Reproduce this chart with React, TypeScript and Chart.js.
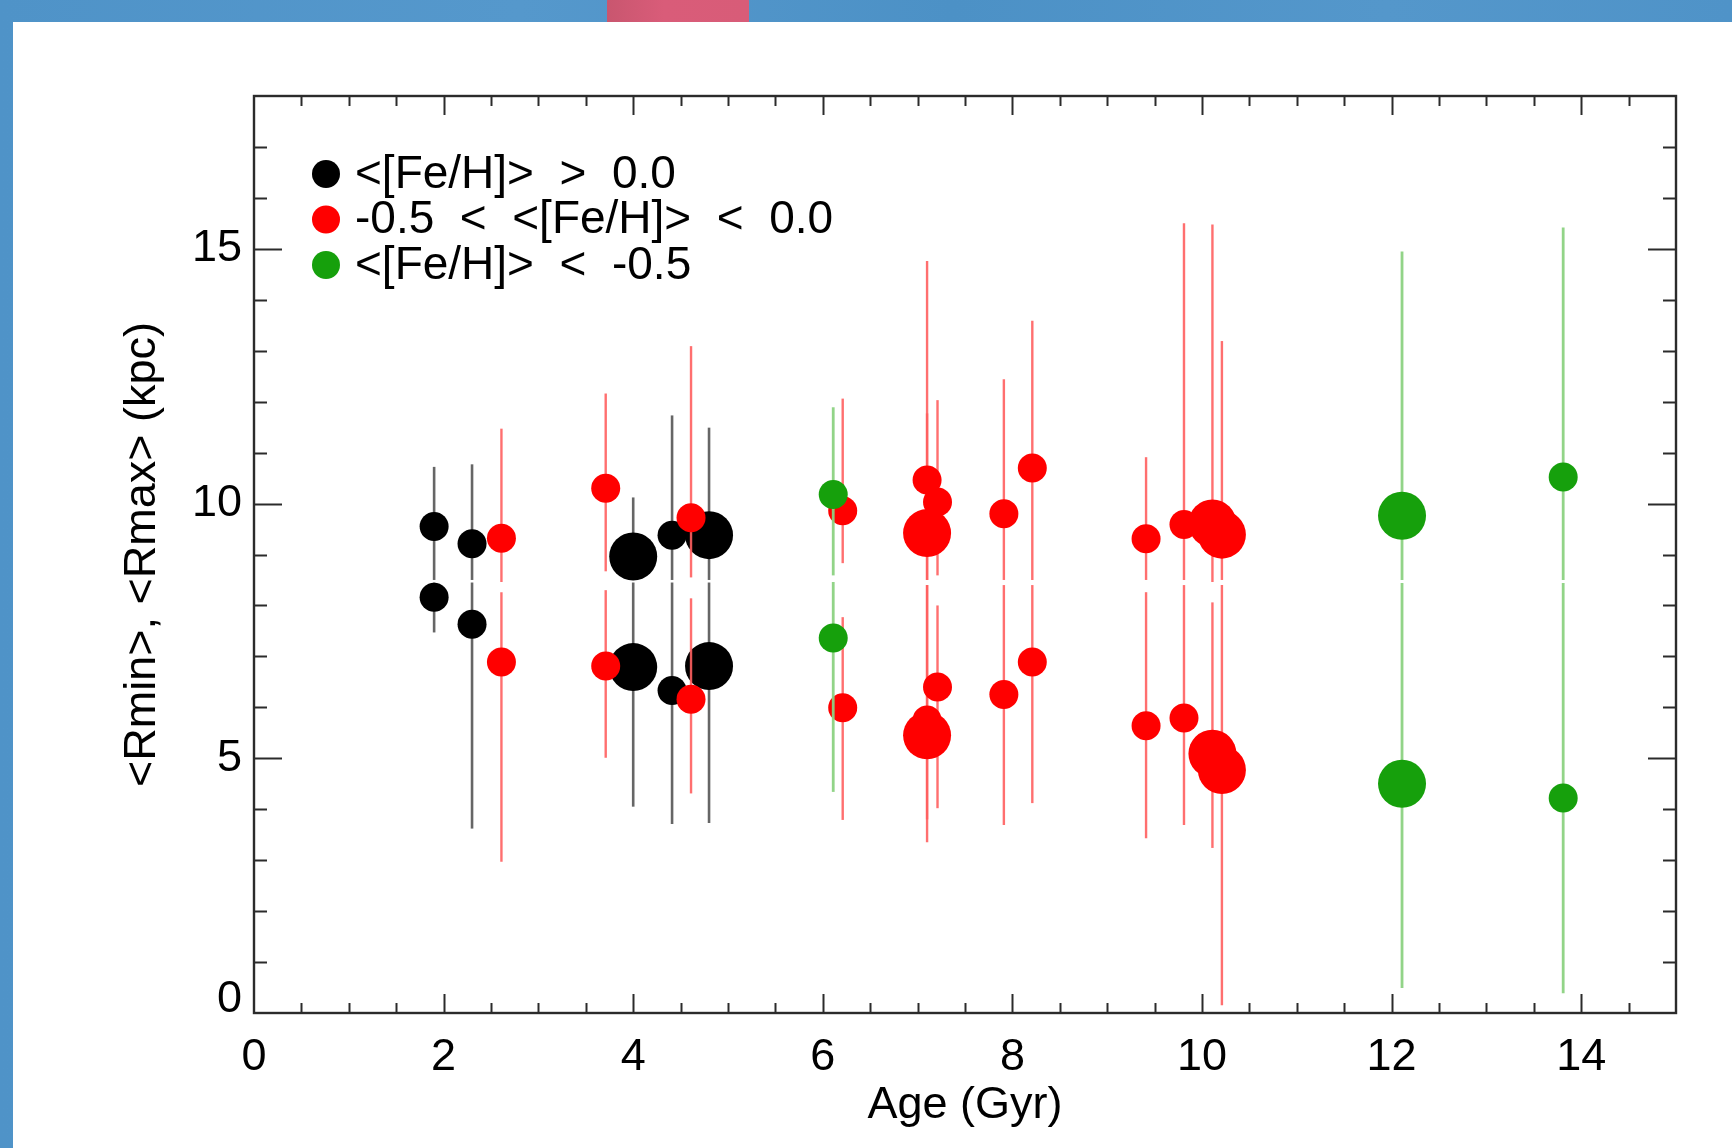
import React, { useEffect, useRef } from "react";
import { Chart, registerables } from "chart.js";

Chart.register(...registerables);

// ---------- axis setup / text ----------
const xTickLabels = ["0", "2", "4", "6", "8", "10", "12", "14"];
const yTickLabels = ["0", "5", "10", "15"];
const xTitle = "Age (Gyr)";
const yTitle = "<Rmin>, <Rmax> (kpc)";
const groupLabels = [
  "<[Fe/H]>  >  0.0",
  "-0.5  <  <[Fe/H]>  <  0.0",
  "<[Fe/H]>  <  -0.5",
];

// ---------- [Fe/H] > 0.0 ----------
const richAge = [1.9, 2.3, 4.0, 4.41, 4.8];
const richRmax = [9.55, 9.21, 8.96, 9.38, 9.38];
const richRmaxHi = [10.72, 10.77, 10.12, 11.73, 11.49];
const richRmaxLo = [8.5, 8.5, 8.5, 8.5, 8.5];
const richRmin = [8.16, 7.63, 6.79, 6.33, 6.81];
const richRminHi = [8.45, 8.45, 8.45, 8.45, 8.45];
const richRminLo = [7.47, 3.62, 4.05, 3.71, 3.73];
const richBig = [false, false, true, false, true];

// ---------- -0.5 < [Fe/H] < 0.0 ----------
const midAge = [2.61, 3.71, 4.61, 6.21, 7.1, 7.1, 7.21, 7.91, 8.21, 9.41, 9.81, 10.11, 10.21];
const midRmax = [9.32, 10.3, 9.72, 9.86, 10.46, 9.42, 10.03, 9.8, 10.7, 9.31, 9.59, 9.61, 9.39];
const midRmaxHi = [11.47, 12.16, 13.09, 12.06, 11.77, 14.76, 12.03, 12.44, 13.59, 10.91, 15.5, 15.48, 13.19];
const midRmaxLo = [8.46, 8.67, 8.55, 8.83, 8.5, 8.5, 8.59, 8.5, 8.5, 8.5, 8.5, 8.46, 8.5];
const midRmin = [6.89, 6.81, 6.16, 5.99, 5.75, 5.45, 6.4, 6.25, 6.89, 5.64, 5.79, 5.09, 4.77];
const midRminHi = [8.26, 8.3, 8.14, 7.77, 8.4, 8.4, 8.0, 8.4, 8.4, 8.26, 8.4, 8.06, 8.4];
const midRminLo = [2.97, 5.01, 4.31, 3.79, 3.8, 3.35, 4.02, 3.69, 4.12, 3.43, 3.69, 3.24, 0.15];
const midBig = [false, false, false, false, false, true, false, false, false, false, false, true, true];

// ---------- [Fe/H] < -0.5 ----------
const poorAge = [6.11, 12.11, 13.81];
const poorRmax = [10.18, 9.76, 10.52];
const poorRmaxHi = [11.89, 14.95, 15.42];
const poorRmaxLo = [8.59, 8.5, 8.5];
const poorRmin = [7.36, 4.5, 4.22];
const poorRminHi = [8.46, 8.44, 8.44];
const poorRminLo = [4.34, 0.49, 0.39];
const poorBig = [false, true, false];

const FONT = "'Liberation Sans', Arial, Helvetica, sans-serif";
const SMALL_R = 14.5;
const BIG_R = 24;

type Group = {
  label: string;
  color: string;
  barColor: string;
  barWidth: number;
  age: number[];
  rmax: number[];
  rmaxHi: number[];
  rmaxLo: number[];
  rmin: number[];
  rminHi: number[];
  rminLo: number[];
  big: boolean[];
};

const groups: Group[] = [
  {
    label: groupLabels[0], color: "#000000", barColor: "rgba(85,85,85,0.9)", barWidth: 2.6,
    age: richAge, rmax: richRmax, rmaxHi: richRmaxHi, rmaxLo: richRmaxLo,
    rmin: richRmin, rminHi: richRminHi, rminLo: richRminLo, big: richBig,
  },
  {
    label: groupLabels[1], color: "#ff0000", barColor: "rgba(255,95,95,0.9)", barWidth: 2.4,
    age: midAge, rmax: midRmax, rmaxHi: midRmaxHi, rmaxLo: midRmaxLo,
    rmin: midRmin, rminHi: midRminHi, rminLo: midRminLo, big: midBig,
  },
  {
    label: groupLabels[2], color: "#16a00c", barColor: "rgba(140,210,130,0.95)", barWidth: 2.8,
    age: poorAge, rmax: poorRmax, rmaxHi: poorRmaxHi, rmaxLo: poorRmaxLo,
    rmin: poorRmin, rminHi: poorRminHi, rminLo: poorRminLo, big: poorBig,
  },
];

const errorBarPlugin = {
  id: "errorBars",
  beforeDatasetDraw(chart: any, args: any) {
    const g = groups[args.index];
    if (!g) return;
    const { ctx, chartArea: a } = chart;
    const xs = chart.scales.x;
    const ys = chart.scales.y;
    ctx.save();
    ctx.beginPath();
    ctx.rect(a.left, a.top, a.right - a.left, a.bottom - a.top);
    ctx.clip();
    ctx.strokeStyle = g.barColor;
    ctx.lineWidth = g.barWidth;
    ctx.lineCap = "butt";
    g.age.forEach((age, i) => {
      const px = xs.getPixelForValue(age);
      const segs = [
        [g.rmaxLo[i], g.rmaxHi[i]],
        [g.rminLo[i], g.rminHi[i]],
      ];
      segs.forEach(([lo, hi]) => {
        ctx.beginPath();
        ctx.moveTo(px, ys.getPixelForValue(lo));
        ctx.lineTo(px, ys.getPixelForValue(hi));
        ctx.stroke();
      });
    });
    ctx.restore();
  },
};

const frameTicksPlugin = {
  id: "frameTicks",
  afterDatasetsDraw(chart: any) {
    const { ctx, chartArea: a } = chart;
    const xs = chart.scales.x;
    const ys = chart.scales.y;
    ctx.save();
    ctx.strokeStyle = "#2b2b2b";
    ctx.lineWidth = 2.4;
    ctx.strokeRect(a.left, a.top, a.right - a.left, a.bottom - a.top);
    ctx.lineWidth = 2;
    const seg = (x1: number, y1: number, x2: number, y2: number) => {
      ctx.beginPath();
      ctx.moveTo(x1, y1);
      ctx.lineTo(x2, y2);
      ctx.stroke();
    };
    // x axis: major every 2, minor every 0.5
    for (let k = 1; k * 0.5 < xs.max - 1e-9; k++) {
      const v = k * 0.5;
      const px = Math.round(xs.getPixelForValue(v)) + 0.5;
      const len = k % 4 === 0 ? 19 : 10;
      seg(px, a.bottom, px, a.bottom - len);
      seg(px, a.top, px, a.top + len);
    }
    // y axis: major every 5, minor every 1
    for (let k = 1; k < ys.max - 1e-9; k++) {
      const py = Math.round(ys.getPixelForValue(k)) + 0.5;
      const len = k % 5 === 0 ? 28 : 13;
      seg(a.left, py, a.left + len, py);
      seg(a.right, py, a.right - len, py);
    }
    ctx.restore();
  },
};

const legendPlugin = {
  id: "cornerLegend",
  afterDraw(chart: any) {
    const { ctx, chartArea: a } = chart;
    ctx.save();
    ctx.font = `46px ${FONT}`;
    ctx.textBaseline = "middle";
    ctx.textAlign = "left";
    groups.forEach((g, i) => {
      const cy = a.top + 78 + i * 45.5;
      ctx.fillStyle = g.color;
      ctx.beginPath();
      ctx.arc(a.left + 72, cy, 14, 0, Math.PI * 2);
      ctx.fill();
      ctx.fillStyle = "#000";
      ctx.fillText(g.label, a.left + 101, cy + 1);
    });
    ctx.restore();
  },
};

export default function App() {
  const ref = useRef<HTMLCanvasElement | null>(null);

  useEffect(() => {
    if (!ref.current) return;
    const datasets = groups.map((g, gi) => {
      const radii = g.big.map((b) => (b ? BIG_R : SMALL_R));
      return {
        label: g.label,
        data: [
          ...g.age.map((a, i) => ({ x: a, y: g.rmax[i] })),
          ...g.age.map((a, i) => ({ x: a, y: g.rmin[i] })),
        ],
        pointRadius: [...radii, ...radii],
        pointHoverRadius: [...radii, ...radii],
        pointBackgroundColor: g.color,
        pointBorderColor: g.color,
        pointBorderWidth: 0,
        showLine: false,
        order: 2 - gi,
      };
    });

    const chart = new Chart(ref.current, {
      type: "scatter",
      data: { datasets },
      plugins: [errorBarPlugin, frameTicksPlugin, legendPlugin],
      options: {
        responsive: false,
        animation: false,
        devicePixelRatio: 1,
        events: [],
        layout: { padding: { left: 0, right: 56, top: 96, bottom: 0 } },
        plugins: {
          legend: { display: false },
          tooltip: { enabled: false },
        },
        scales: {
          x: {
            type: "linear",
            position: "bottom",
            min: 0,
            max: 15,
            grid: { display: false, drawTicks: false },
            border: { display: false },
            ticks: {
              stepSize: 2,
              includeBounds: false,
              autoSkip: false,
              maxRotation: 0,
              padding: 18,
              color: "#000",
              font: { family: FONT, size: 45, lineHeight: 1.2 },
              callback: (v: any) => {
                const s = String(v);
                return xTickLabels.includes(s) ? s : "";
              },
            },
            title: {
              display: true,
              text: xTitle,
              color: "#000",
              font: { family: FONT, size: 45, lineHeight: 1.2 },
              padding: { top: 0, bottom: 15 },
            },
            afterFit: (scale: any) => {
              scale.height = 135;
            },
          },
          y: {
            type: "linear",
            position: "left",
            min: 0,
            max: 18,
            grid: { display: false, drawTicks: false },
            border: { display: false },
            ticks: {
              stepSize: 5,
              includeBounds: false,
              autoSkip: false,
              padding: 12,
              color: "#000",
              font: { family: FONT, size: 45, lineHeight: 0.58 },
              callback: (v: any) => {
                const s = String(v);
                if (!yTickLabels.includes(s)) return "";
                return s === "0" ? ["0", ""] : s;
              },
            },
            title: {
              display: true,
              text: yTitle,
              color: "#000",
              font: { family: FONT, size: 45, lineHeight: 1.2 },
              padding: { top: 116, bottom: 0 },
            },
            afterFit: (scale: any) => {
              scale.width = 254;
            },
          },
        },
      } as any,
    });
    return () => chart.destroy();
  }, []);

  return (
    <div
      style={{
        position: "absolute",
        left: 0,
        top: 0,
        width: 1732,
        height: 1148,
        overflow: "hidden",
        background: "linear-gradient(90deg, #4f93c8 0%, #5598cc 30%, #4c91c6 55%, #5497cb 80%, #4f93c8 100%)",
      }}
    >
      <div
        style={{
          position: "absolute",
          left: 607,
          top: -12,
          width: 142,
          height: 48,
          borderRadius: 14,
          background: "linear-gradient(90deg, #c9566f 0%, #d95c79 40%, #d85c78 100%)",
        }}
      />
      <div
        style={{
          position: "absolute",
          left: 13,
          top: 22,
          right: 0,
          bottom: 0,
          background: "#ffffff",
        }}
      />
      <canvas
        ref={ref}
        width={1732}
        height={1148}
        style={{ position: "absolute", left: 0, top: 0, width: 1732, height: 1148 }}
      />
    </div>
  );
}
